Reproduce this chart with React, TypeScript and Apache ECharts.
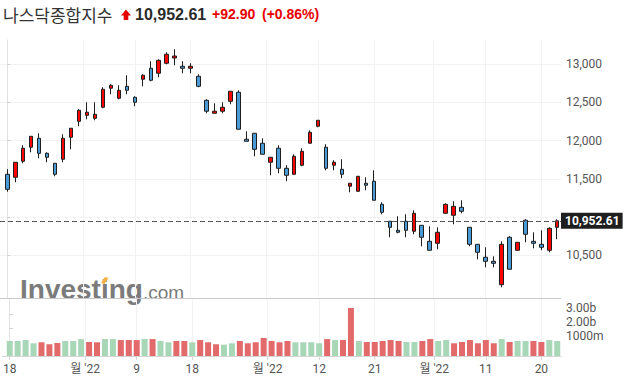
import React, { useEffect, useRef } from "react";
import * as echarts from "echarts";

// ---- data ----
const opens = [
  11560, 11521, 11730, 11913, 12030, 11834, 11704, 11756, 12043, 12252,
  12330, 12291, 12435, 12683, 12552, 12709, 12565, 12800, 12944, 12879,
  13009, 13078, 12970, 12944, 12839, 12526, 12356, 12383, 12513, 12631,
  12017, 12095, 11965, 11717, 11900, 11638, 11560, 11678, 11965, 12187,
  11913, 11678, 11625, 11404, 11338, 11443, 11469, 11168, 10947, 10829,
  10947, 10816, 10894, 10685, 10659, 11051, 11025, 11129, 10868, 10646,
  10477, 10424, 10119, 10738, 10568, 10960, 10685, 10646, 10568, 10868,
];
const closes = [
  11364, 11717, 11900, 12056, 11834, 11782, 11560, 12030, 12161, 12396,
  12370, 12343, 12670, 12722, 12657, 12657, 12500, 12853, 12787, 13048,
  13127, 13104, 12944, 12970, 12709, 12383, 12383, 12435, 12644, 12148,
  11991, 11886, 11821, 11782, 11638, 11547, 11795, 11860, 12108, 12265,
  11638, 11717, 11560, 11443, 11534, 11417, 11221, 11064, 10868, 10803,
  10829, 11051, 10738, 10568, 10803, 11168, 11142, 11077, 10646, 10542,
  10424, 10398, 10646, 10320, 10672, 10777, 10659, 10607, 10855, 10952.61,
];
const lows = [
  11333, 11456, 11704, 11847, 11769, 11717, 11534, 11717, 11886, 12187,
  12278, 12265, 12422, 12604, 12539, 12604, 12448, 12709, 12774, 12826,
  12996, 12983, 12879, 12879, 12696, 12356, 12356, 12356, 12474, 12148,
  11991, 11795, 11821, 11547, 11573, 11469, 11560, 11665, 11965, 12174,
  11612, 11612, 11508, 11325, 11338, 11351, 11221, 11038, 10738, 10790,
  10738, 10777, 10620, 10568, 10581, 11051, 10907, 11051, 10620, 10450,
  10346, 10346, 10085, 10320, 10568, 10672, 10594, 10568, 10542, 10712,
];
const highs = [
  11626, 11717, 11939, 12056, 12095, 11847, 11704, 12082, 12161, 12409,
  12500, 12500, 12696, 12735, 12722, 12853, 12578, 12866, 13035, 13061,
  13153, 13192, 13035, 13009, 12866, 12539, 12487, 12500, 12644, 12657,
  12121, 12095, 12030, 11782, 11939, 11678, 11821, 11900, 12134, 12265,
  11952, 11743, 11756, 11443, 11534, 11521, 11612, 11195, 10947, 11012,
  11038, 11090, 10894, 10881, 10868, 11181, 11208, 11221, 10868, 10646,
  10607, 10489, 10685, 10751, 10672, 10973, 10803, 10829, 10868, 10973,
];
// volume in billions
const volumesB = [
  1.07, 1.07, 1.14, 0.91, 0.98, 0.84, 0.93, 1.07, 1.07, 1.21,
  1.0, 0.98, 1.21, 1.21, 1.14, 1.14, 1.14, 1.21, 1.21, 1.07,
  0.98, 1.07, 1.07, 0.98, 1.14, 0.98, 0.84, 0.81, 0.91, 1.07,
  0.91, 0.98, 1.29, 1.07, 0.98, 1.07, 0.98, 0.98, 0.98, 0.91,
  1.21, 1.14, 1.14, 3.43, 1.07, 1.0, 1.0, 1.07, 1.14, 1.07,
  1.0, 1.0, 1.07, 1.21, 1.07, 1.14, 0.91, 1.0, 1.14, 0.91,
  1.14, 0.91, 1.21, 1.0, 1.07, 1.07, 1.07, 1.0, 1.14, 1.07,
];
// 1 = green volume bar, 0 = red volume bar
const volumeGreen = [
  1, 1, 1, 1, 0, 0, 0, 1, 1, 1,
  0, 0, 1, 1, 0, 0, 0, 1, 0, 1,
  1, 0, 0, 1, 0, 0, 0, 1, 1, 0,
  0, 0, 0, 0, 0, 0, 1, 1, 1, 1,
  0, 1, 0, 0, 1, 0, 0, 0, 0, 0,
  1, 1, 0, 0, 1, 1, 0, 0, 0, 0,
  0, 0, 1, 0, 1, 1, 0, 0, 1, 1,
];
const xTickIndex = [0, 9.5, 16, 23, 32.5, 39, 46, 53.5, 60, 67];
const xTickLabels = ["18", "월 '22", "9", "18", "월 '22", "12", "21", "월 '22", "11", "20"];
const priceTicks = [10500, 11000, 11500, 12000, 12500, 13000];
const priceLabels = [10500, 11500, 12000, 12500, 13000];
const volumeTicks = [1e9, 2e9, 3e9];
const lastPrice = 10952.61;
const titleName = "나스닥종합지수";
const titlePrice = "10,952.61";
const titleChange = "+92.90";
const titlePct = "(+0.86%)";

const AXIS_FONT = 'Roboto, "Noto Sans CJK KR", "Liberation Sans", sans-serif';

export default function App() {
  const ref = useRef<HTMLDivElement>(null);
  useEffect(() => {
    if (!ref.current) return;
    const chart = echarts.init(ref.current, undefined, { renderer: "svg" });
    const xMin = -0.916;
    const xMax = xMin + 561 / 7.97;
    const fmtX = (v: number) => {
      const k = xTickIndex.findIndex((t) => Math.abs(t - v) < 1e-6);
      return k >= 0 ? xTickLabels[k] : "";
    };
    const fmtVol = (v: number) => {
      if (Math.abs(v - 1e9) < 1) return "1000m";
      return (v / 1e9).toFixed(2) + "b";
    };
    const option: any = {
      animation: false,
      backgroundColor: "#ffffff",
      textStyle: { fontFamily: AXIS_FONT },
      grid: [
        { left: 0, top: 40, width: 561, height: 258 },
        { left: 0, top: 298, width: 561, height: 58 },
      ],
      xAxis: [
        {
          gridIndex: 0,
          type: "value",
          min: xMin,
          max: xMax,
          axisLine: { show: true, onZero: false, lineStyle: { color: "#c9c9c9", width: 1 } },
          axisTick: { show: false, customValues: xTickIndex },
          axisLabel: { show: false },
          splitLine: { show: true, lineStyle: { color: "#f2f2f2", width: 1 } },
        },
        {
          gridIndex: 1,
          type: "value",
          min: xMin,
          max: xMax,
          axisLine: { show: true, onZero: false, lineStyle: { color: "#d6d6d6", width: 1 } },
          axisTick: { show: true, length: 4, customValues: xTickIndex, lineStyle: { color: "#d6d6d6" } },
          axisLabel: {
            show: true,
            customValues: xTickIndex,
            formatter: fmtX,
            color: "#555555",
            fontSize: 12,
            margin: 7,
            fontFamily: AXIS_FONT,
          },
          splitLine: { show: true, lineStyle: { color: "#f2f2f2", width: 1 } },
        },
      ],
      yAxis: [
        {
          gridIndex: 0,
          type: "value",
          position: "right",
          min: 9945,
          max: 13313,
          axisLine: { show: true, lineStyle: { color: "#e2e2e2" } },
          axisTick: { show: true, length: 3, customValues: priceTicks, lineStyle: { color: "#cfcfcf" } },
          axisLabel: {
            customValues: priceLabels,
            formatter: (v: number) => v.toLocaleString("en-US"),
            color: "#555555",
            fontSize: 12,
            margin: 5,
            fontFamily: AXIS_FONT,
          },
          splitLine: { show: true, lineStyle: { color: "#f2f2f2", width: 1 } },
        },
        {
          gridIndex: 1,
          type: "value",
          position: "right",
          min: 0,
          max: (58 / 14) * 1e9,
          axisLine: { show: true, lineStyle: { color: "#e2e2e2" } },
          axisTick: { show: true, length: 3, customValues: volumeTicks, lineStyle: { color: "#cfcfcf" } },
          axisLabel: {
            customValues: volumeTicks,
            formatter: fmtVol,
            color: "#555555",
            fontSize: 12,
            margin: 5,
            verticalAlign: "bottom",
            fontFamily: AXIS_FONT,
          },
          splitLine: { show: false },
        },
      ],
      series: [
        {
          type: "candlestick",
          xAxisIndex: 0,
          yAxisIndex: 0,
          barWidth: 4,
          data: opens.map((o, i) => [i, o, closes[i], lows[i], highs[i]]),
          itemStyle: {
            color: "#ff0000",
            color0: "#4a9ad6",
            borderColor: "#1e1e1e",
            borderColor0: "#1e1e1e",
            borderWidth: 1,
          },
          markLine: {
            silent: true,
            symbol: "none",
            data: [{ yAxis: lastPrice }],
            lineStyle: { color: "#555555", type: [5, 3], width: 1 },
            label: {
              show: true,
              position: "end",
              distance: 0,
              formatter: () => lastPrice.toLocaleString("en-US", { minimumFractionDigits: 2 }),
              color: "#ffffff",
              backgroundColor: "#1f1f1f",
              fontWeight: "bold",
              fontSize: 12,
              padding: [2, 3, 2, 4],
              fontFamily: AXIS_FONT,
            },
          },
        },
        {
          type: "bar",
          xAxisIndex: 1,
          yAxisIndex: 1,
          barWidth: 6,
          data: volumesB.map((v, i) => ({
            value: [i, v * 1e9],
            itemStyle: { color: volumeGreen[i] ? "#a7d7b6" : "#e26a6a" },
          })),
        },
      ],
      graphic: [
        {
          type: "group",
          z: 0,
          children: [
            {
              type: "text",
              x: 20,
              y: 303,
              style: {
                text: "Investing",
                font: 'bold 28px "Liberation Sans", Arial, sans-serif',
                fill: "#7b7b7b",
                verticalAlign: "bottom",
              },
            },
            {
              type: "text",
              x: 143,
              y: 302,
              style: {
                text: ".com",
                font: '19px "Liberation Sans", Arial, sans-serif',
                fill: "#7b7b7b",
                verticalAlign: "bottom",
              },
            },
            {
              type: "polygon",
              shape: { points: [[101, 283], [105, 277], [108.5, 278], [104.5, 284]] },
              style: { fill: "#f5b041" },
            },
          ],
        },
        {
          type: "text",
          x: 3,
          y: 14,
          style: {
            text: titleName,
            font: '17px "Noto Sans CJK KR", sans-serif',
            fill: "#333333",
            verticalAlign: "middle",
          },
        },
        {
          type: "polygon",
          shape: {
            points: [[121, 15.5], [126, 9.5], [131, 15.5], [128.3, 15.5], [128.3, 20], [123.7, 20], [123.7, 15.5]],
          },
          style: { fill: "#e60000" },
        },
        {
          type: "text",
          x: 135,
          y: 14,
          style: {
            text: titlePrice,
            font: 'bold 16px "Liberation Sans", Arial, sans-serif',
            fill: "#2b2b2b",
            verticalAlign: "middle",
          },
        },
        {
          type: "text",
          x: 212,
          y: 14,
          style: {
            text: titleChange,
            font: 'bold 14px "Liberation Sans", Arial, sans-serif',
            fill: "#e60000",
            verticalAlign: "middle",
          },
        },
        {
          type: "text",
          x: 262,
          y: 14,
          style: {
            text: titlePct,
            font: 'bold 14px "Liberation Sans", Arial, sans-serif',
            fill: "#e60000",
            verticalAlign: "middle",
          },
        },
      ],
    };
    chart.setOption(option);
    return () => chart.dispose();
  }, []);
  return (
    <div
      ref={ref}
      style={{ position: "absolute", left: 0, top: 0, width: 627, height: 382, background: "#fff" }}
    />
  );
}
